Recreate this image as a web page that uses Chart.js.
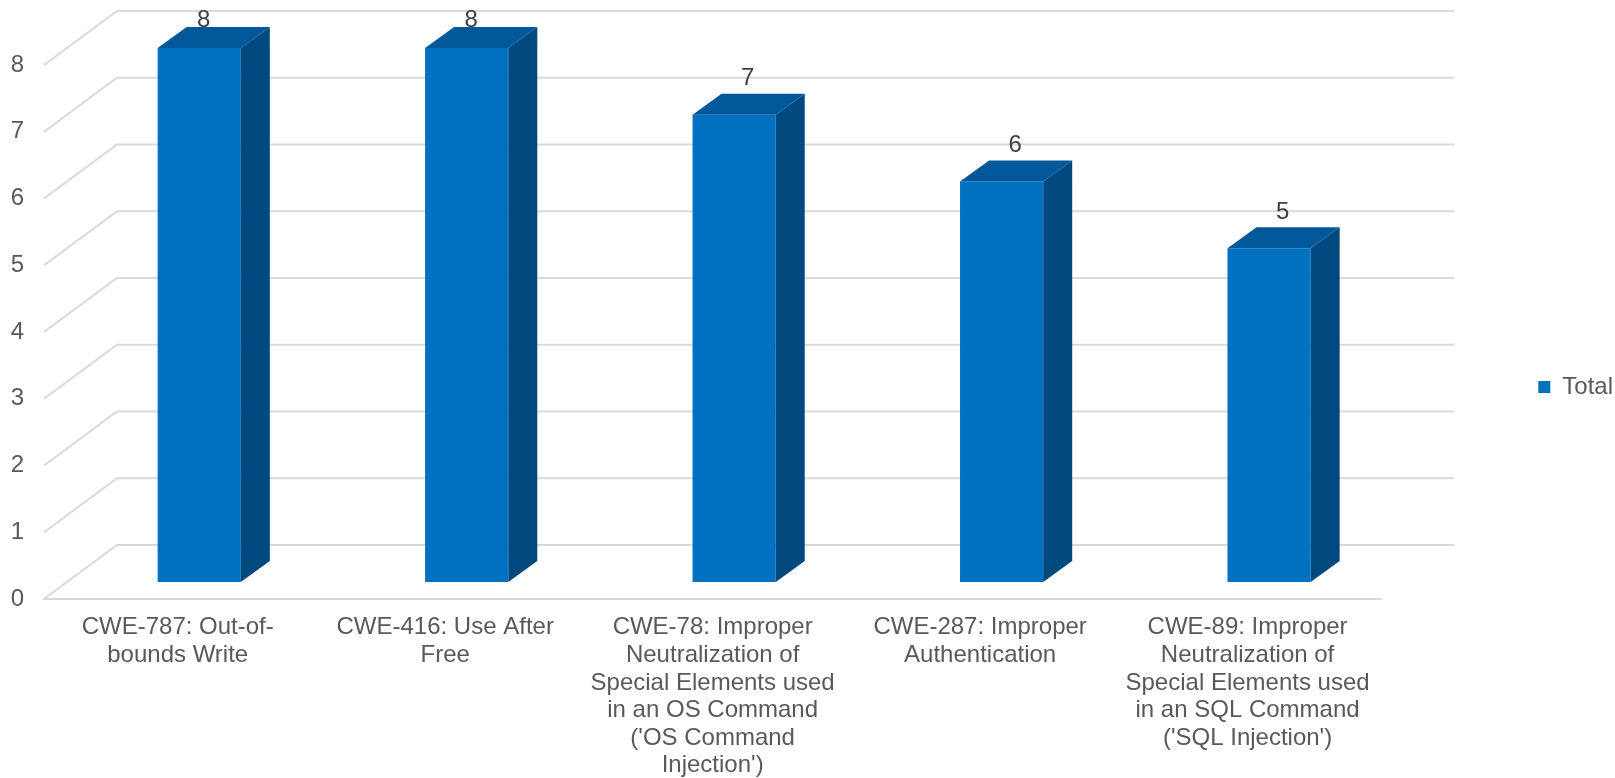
<!DOCTYPE html>
<html>
<head>
<meta charset="utf-8">
<script src="https://cdn.jsdelivr.net/npm/chart.js@4.4.1/dist/chart.umd.min.js"></script>
<style>
  html, body { margin: 0; padding: 0; background: #fff; }
  #wrap { width: 1615px; height: 778px; }
</style>
</head>
<body>
<div id="wrap"><canvas id="cwe-chart"></canvas></div>
<script>
// data
const categories = [
    ['CWE-787: Out-of-', 'bounds Write'],
    ['CWE-416: Use After', 'Free'],
    ['CWE-78: Improper', 'Neutralization of', 'Special Elements used', 'in an OS Command', "('OS Command", "Injection')"],
    ['CWE-287: Improper', 'Authentication'],
    ['CWE-89: Improper', 'Neutralization of', 'Special Elements used', 'in an SQL Command', "('SQL Injection')"]
];
const totals = [8, 8, 7, 6, 5];
const seriesName = 'Total';
const yMin = 0;
const yMax = 8;
const yStep = 1;

// 3d look
const frontColor = '#0070c0';
const topColor = '#00589b';
const sideColor = '#00497e';
const gridColor = '#d9d9d9';
const textColor = '#595959';
const WALL_DX = 73, WALL_DY = -54;     // depth of the floor / side wall
const FRONT_DX = 21.5, FRONT_DY = -17; // where the bar front sits in the depth
const BAR_DX = 29, BAR_DY = -21;       // depth of one bar

const fontFamily = '"Liberation Sans", Arial, sans-serif';

const box3d = {
    id: 'box3d',
    beforeDatasetsDraw(chart) {
        const ctx = chart.ctx;
        const yScale = chart.scales.y;
        const area = chart.chartArea;
        ctx.save();
        ctx.strokeStyle = gridColor;
        ctx.lineWidth = 2;
        yScale.ticks.forEach(function(t) {
            const py = yScale.getPixelForValue(t.value);
            ctx.beginPath();
            ctx.moveTo(area.left, py);
            ctx.lineTo(area.left + WALL_DX, py + WALL_DY);
            ctx.lineTo(area.right + WALL_DX, py + WALL_DY);
            ctx.stroke();
        });
        ctx.restore();
        // push the bars back into the depth, restored after they are drawn
        ctx.save();
        ctx.translate(FRONT_DX, FRONT_DY);
    },
    afterDatasetsDraw(chart) {
        const ctx = chart.ctx;
        const bars = chart.getDatasetMeta(0).data;
        bars.forEach(function(bar) {
            const p = bar.getProps(['x', 'y', 'base', 'width'], true);
            const l = p.x - p.width / 2, r = p.x + p.width / 2;
            ctx.fillStyle = sideColor;
            ctx.beginPath();
            ctx.moveTo(r, p.y);
            ctx.lineTo(r + BAR_DX, p.y + BAR_DY);
            ctx.lineTo(r + BAR_DX, p.base + BAR_DY);
            ctx.lineTo(r, p.base);
            ctx.closePath();
            ctx.fill();
            ctx.fillStyle = topColor;
            ctx.beginPath();
            ctx.moveTo(l, p.y);
            ctx.lineTo(r, p.y);
            ctx.lineTo(r + BAR_DX, p.y + BAR_DY);
            ctx.lineTo(l + BAR_DX, p.y + BAR_DY);
            ctx.closePath();
            ctx.fill();
        });
        ctx.restore();

        // value labels above the boxes
        ctx.save();
        ctx.font = '24px ' + fontFamily;
        ctx.fillStyle = '#404040';
        ctx.textAlign = 'center';
        ctx.textBaseline = 'middle';
        bars.forEach(function(bar, i) {
            let lx = bar.x + FRONT_DX + BAR_DX / 2 - 1;
            let ly = bar.y + FRONT_DY + BAR_DY - 15;
            if (ly < 20) {
                ly = 20;
                lx = bar.x + 26;
            }
            ctx.fillText(String(totals[i]), lx, ly);
        });
        ctx.restore();
    }
};

function drawChart() {
    const ctx = document.getElementById('cwe-chart');
    new Chart(ctx, {
        type: 'bar',
        data: {
            labels: categories,
            datasets: [{
                label: seriesName,
                data: totals,
                xAxisID: 'x',
                yAxisID: 'y',
                backgroundColor: frontColor,
                borderWidth: 0,
                barPercentage: 0.311,
                categoryPercentage: 1,
                clip: false
            }]
        },
        options: {
            responsive: true,
            maintainAspectRatio: false,
            animation: false,
            layout: {
                padding: { top: -4, bottom: 0, left: 0, right: -8 }
            },
            plugins: {
                tooltip: { enabled: false },
                legend: {
                    position: 'right',
                    labels: {
                        boxWidth: 12,
                        boxHeight: 12,
                        padding: 157,
                        color: textColor,
                        font: { family: fontFamily, size: 24 }
                    }
                }
            },
            scales: {
                // empty band above the plot, leaves room for the back wall
                topSpace: {
                    type: 'category',
                    position: 'top',
                    grid: { display: false, drawTicks: false },
                    border: { display: false },
                    ticks: { display: false },
                    afterFit: function(scale) { scale.height = 69; }
                },
                x: {
                    position: 'bottom',
                    grid: { display: false, drawTicks: false },
                    border: { display: true, color: gridColor, width: 2 },
                    ticks: {
                        color: textColor,
                        padding: 15,
                        maxRotation: 0,
                        autoSkip: false,
                        font: { family: fontFamily, size: 24, lineHeight: 1.15 }
                    },
                    afterFit: function(scale) { scale.height = 179; }
                },
                y: {
                    min: yMin,
                    max: yMax,
                    grid: { display: false, drawTicks: false },
                    border: { display: false },
                    ticks: {
                        stepSize: yStep,
                        color: textColor,
                        padding: 20,
                        font: { family: fontFamily, size: 24 }
                    },
                    afterFit: function(scale) { scale.width = 44; }
                }
            }
        },
        plugins: [box3d]
    });
}

drawChart();
</script>
</body>
</html>
